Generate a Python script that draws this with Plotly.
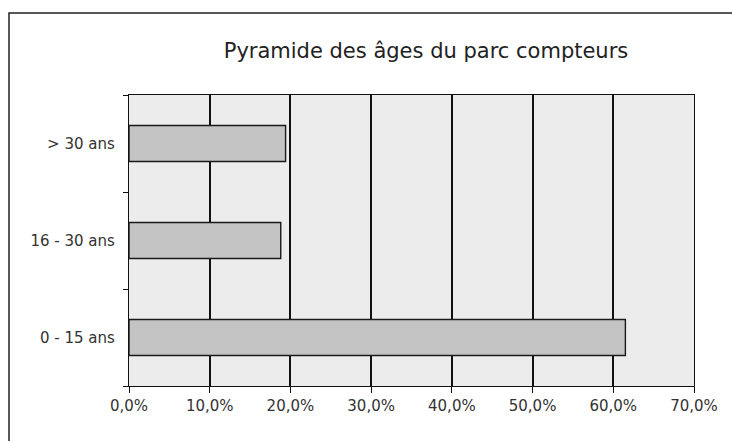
import plotly.graph_objects as go

categories = ["0 - 15 ans", "16 - 30 ans", "> 30 ans"]
values = [0.615, 0.188, 0.194]
tick_vals = [0, 0.1, 0.2, 0.3, 0.4, 0.5, 0.6, 0.7]
tick_text = ["0,0%", "10,0%", "20,0%", "30,0%", "40,0%", "50,0%", "60,0%", "70,0%"]
title_text = "Pyramide des âges du parc compteurs"

W, H = 732, 441
L, R, T, B = 129, 38, 95, 55
pw, ph = W - L - R, H - T - B

fig = go.Figure()
fig.add_trace(go.Bar(
    y=categories, x=values, orientation="h",
    marker=dict(color="#c3c3c3", line=dict(color="#1a1a1a", width=1.4)),
    width=0.37, hoverinfo="skip",
))

fig.update_layout(
    width=W, height=H,
    margin=dict(l=L, r=R, t=T, b=B),
    paper_bgcolor="white",
    plot_bgcolor="#ececec",
    showlegend=False,
    font=dict(family="DejaVu Sans", color="#333333", size=15),
    title=dict(
        text=title_text,
        x=(426 - L) / pw, xref="paper", xanchor="center",
        y=1 - 51 / H, yanchor="middle",
        font=dict(family="DejaVu Sans", size=21, color="#222222"),
    ),
    xaxis=dict(
        range=[0, 0.7], tickvals=tick_vals, ticktext=tick_text,
        showgrid=True, gridcolor="#111111", gridwidth=1.5,
        showline=True, linecolor="#111111", linewidth=1.4, mirror=True,
        ticks="outside", ticklen=6, tickcolor="#111111",
        zeroline=False, fixedrange=True,
        tickfont=dict(size=15, color="#333333"),
    ),
    yaxis=dict(
        categoryorder="array", categoryarray=categories,
        showgrid=False, showline=True, linecolor="#111111", linewidth=1.4, mirror=True,
        ticks="outside", ticklen=5, tickcolor="#111111", tickson="boundaries",
        fixedrange=True, ticklabelstandoff=10,
        tickfont=dict(size=15, color="#333333"),
    ),
)

# outer chart frame (left and top edges visible, rest outside the page)
fig.add_shape(
    type="rect", xref="paper", yref="paper",
    x0=(9 - L) / pw, x1=(W + 20 - L) / pw,
    y0=-(H + 20 - (T + ph)) / ph, y1=1 + (T - 13) / ph,
    line=dict(color="#222222", width=1.5), fillcolor="rgba(0,0,0,0)", layer="below",
)

fig.write_html("out.html", config={"displayModeBar": False},
               post_script="document.body.style.margin='0';")
